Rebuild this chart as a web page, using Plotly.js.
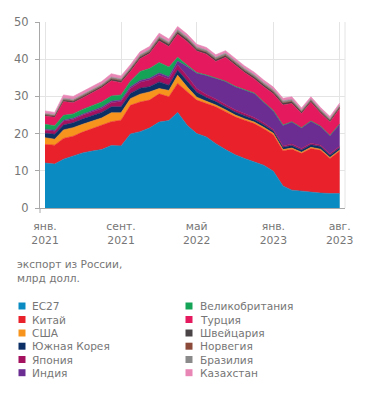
<!DOCTYPE html>
<html>
<head>
<meta charset="utf-8">
<script src="https://cdn.plot.ly/plotly-3.0.1.min.js"></script>
<style>
html,body{margin:0;padding:0;background:#fff;}
#chart{width:371px;height:395px;}
</style>
</head>
<body>
<div id="chart"></div>
<script>
// Months Jan 2021 .. Aug 2023
const months = ["2021-01-01","2021-02-01","2021-03-01","2021-04-01","2021-05-01","2021-06-01","2021-07-01","2021-08-01","2021-09-01","2021-10-01","2021-11-01","2021-12-01",
"2022-01-01","2022-02-01","2022-03-01","2022-04-01","2022-05-01","2022-06-01","2022-07-01","2022-08-01","2022-09-01","2022-10-01","2022-11-01","2022-12-01",
"2023-01-01","2023-02-01","2023-03-01","2023-04-01","2023-05-01","2023-06-01","2023-07-01","2023-08-01"];

// Exports from Russia, bn USD
const eu27      = [12.1,11.8,13.1,13.9,14.8,15.3,15.7,16.8,16.7,19.9,20.5,21.5,23.1,23.5,25.7,22.2,20.0,19.1,17.3,15.7,14.3,13.3,12.4,11.5,9.9,5.9,4.8,4.5,4.3,4.0,3.9,3.9];
const china     = [5.0,5.1,5.6,5.4,5.6,6.0,6.5,6.4,6.9,7.7,8.0,7.5,7.6,6.4,7.8,9.0,9.0,9.0,9.9,10.2,10.2,10.3,10.3,9.8,9.8,9.5,11.0,10.2,11.7,11.5,9.4,11.4];
const usa       = [1.8,1.6,2.3,2.3,2.1,2.0,2.0,2.4,2.0,1.8,2.1,2.2,1.4,1.7,2.2,1.3,0.8,0.6,0.5,0.5,0.5,0.4,0.4,0.4,0.4,0.3,0.3,0.3,0.3,0.3,0.3,0.3];
const korea     = [1.2,1.3,1.3,1.3,1.4,1.5,1.5,1.6,1.6,1.4,1.6,1.4,1.8,1.4,1.4,1.6,1.3,1.0,0.9,0.8,0.8,0.8,0.7,0.7,0.6,0.6,0.7,0.6,0.7,0.7,0.6,0.6];
const japan     = [0.8,0.8,1.0,0.9,1.0,1.0,1.0,1.1,1.4,1.3,1.6,1.8,1.8,1.7,1.4,1.3,1.0,0.8,0.7,0.6,0.6,0.6,0.5,0.5,0.4,0.4,0.4,0.4,0.4,0.4,0.4,0.4];
const india     = [0.3,0.3,0.3,0.3,0.3,0.4,0.4,0.4,0.4,0.5,0.5,0.5,0.6,0.6,1.0,2.6,4.1,5.1,5.6,6.2,6.2,6.3,6.5,5.5,5.0,5.5,5.9,5.5,5.9,5.0,4.8,5.9];
const uk        = [1.3,1.2,1.3,1.2,1.3,1.3,1.4,1.4,1.4,1.5,2.4,2.6,2.8,2.6,1.0,0.4,0.2,0.15,0.1,0.1,0.1,0.1,0.1,0.1,0.1,0.1,0.1,0.1,0.1,0.1,0.1,0.1];
const turkey    = [2.2,2.3,3.7,3.0,3.1,3.5,3.8,4.1,3.3,2.6,3.4,4.0,5.8,5.5,6.2,6.3,5.8,5.6,4.4,6.4,5.8,4.6,3.8,4.1,4.5,5.4,4.9,3.8,5.0,3.5,3.6,4.1];
const swiss     = [0.3,0.3,0.4,0.4,0.4,0.4,0.4,0.5,0.5,0.5,0.5,0.5,0.6,0.6,0.6,0.6,0.5,0.5,0.5,0.5,0.5,0.5,0.5,0.5,0.5,0.5,0.5,0.4,0.4,0.4,0.4,0.4];
const norway    = [0.1,0.1,0.1,0.1,0.1,0.1,0.1,0.1,0.1,0.1,0.1,0.1,0.1,0.1,0.1,0.1,0.1,0.1,0.1,0.1,0.1,0.1,0.1,0.1,0.1,0.1,0.1,0.1,0.1,0.1,0.1,0.1];
const brazil    = [0.3,0.3,0.4,0.4,0.4,0.4,0.4,0.4,0.4,0.4,0.5,0.5,0.5,0.5,0.6,0.5,0.5,0.5,0.5,0.5,0.5,0.5,0.5,0.5,0.5,0.5,0.5,0.4,0.4,0.4,0.4,0.4];
const kazakhstan= [0.7,0.6,0.9,0.8,0.8,0.8,0.8,0.9,0.8,0.8,0.8,0.8,0.9,0.8,0.8,0.8,0.7,0.7,0.7,0.7,0.7,0.7,0.7,0.7,0.7,0.7,0.7,0.6,0.6,0.6,0.6,0.6];

const seriesNames  = ["ЕС27","Китай","США","Южная Корея","Япония","Индия","Великобритания","Турция","Швейцария","Норвегия","Бразилия","Казахстан"];
const seriesValues = [eu27,china,usa,korea,japan,india,uk,turkey,swiss,norway,brazil,kazakhstan];
const seriesColors = ["#0a8cc2","#e8212b","#f7941e","#0c2f66","#a3115f","#6b2d92","#15a457","#e5195e","#4b4446","#8c4a3b","#8a8a8a","#e886b6"];

const tickVals  = ["2021-01-01","2021-09-01","2022-05-01","2023-01-01","2023-08-01"];
const tickTexts = ["янв.<br>2021","сент.<br>2021","май<br>2022","янв.<br>2023","авг.<br>2023"];
const yTicks    = [0,10,20,30,40,50];
const unitLabel = "экспорт из России,<br>млрд долл.";

const FONT = "'DejaVu Sans', sans-serif";
const TXT = "#767676";

const traces = seriesNames.map((n,i)=>({
  type:"scatter", mode:"lines", x:months, y:seriesValues[i], name:n,
  stackgroup:"one", fillcolor:seriesColors[i],
  line:{width:0.6,color:seriesColors[i],shape:"linear"},
  showlegend:false, hoverinfo:"skip"
}));

// plot-area geometry in pixels (for the manual legend placement)
const W=371,H=395,L=40,R=26,T=22,B=187;
const pw=W-L-R, ph=H-T-B;
const px=x=>(x-L)/pw, py=y=>(H-B-y)/ph;

const shapes=[], annotations=[];
// legend: two columns of six rows
const rowsY=[306,319.5,333,346.2,359.5,372.7];
seriesNames.forEach((n,i)=>{
  const col = i<6?0:1, row=i%6;
  const sx = col===0?18.5:185.5;
  const tx = col===0?31:199;
  const cy = rowsY[row];
  shapes.push({type:"rect",xref:"paper",yref:"paper",x0:px(sx),x1:px(sx+7),y0:py(cy+3.5),y1:py(cy-3.5),
    fillcolor:seriesColors[i],line:{width:0}});
  annotations.push({xref:"paper",yref:"paper",x:px(tx),y:py(cy),xanchor:"left",yanchor:"middle",borderpad:0,
    text:n,showarrow:false,font:{family:FONT,size:10.6,color:TXT}});
});
annotations.push({xref:"paper",yref:"paper",x:px(16),y:py(257),xanchor:"left",yanchor:"top",align:"left",borderpad:0,
  text:unitLabel,showarrow:false,font:{family:FONT,size:10.6,color:TXT}});
// right border gridline and small extension of the y axis below zero
shapes.push({type:"line",xref:"paper",yref:"paper",x0:1,x1:1,y0:0,y1:1,line:{color:"#e4e4e4",width:1}});
shapes.push({type:"line",xref:"paper",yref:"paper",x0:0,x1:0,y0:py(208),y1:py(213),line:{color:"#a8a8a8",width:1}});

const layout={
  width:W,height:H,margin:{l:L,r:R,t:T,b:B,pad:0},
  paper_bgcolor:"#fff",plot_bgcolor:"#fff",
  font:{family:FONT,color:TXT,size:11},
  showlegend:false,
  xaxis:{type:"date",range:["2020-12-16","2023-08-18"],tickvals:tickVals,ticktext:tickTexts,
    showgrid:true,gridcolor:"#e4e4e4",gridwidth:1,zeroline:false,showline:true,linecolor:"#a8a8a8",linewidth:1,
    ticks:"",tickfont:{family:FONT,size:10.8,color:TXT},ticklabelstandoff:8},
  yaxis:{range:[0,50],tickvals:yTicks,showgrid:true,gridcolor:"#e4e4e4",gridwidth:1,zeroline:false,
    showline:true,linecolor:"#a8a8a8",linewidth:1,ticks:"outside",ticklen:4,tickcolor:"#a8a8a8",
    tickfont:{family:FONT,size:11.5,color:TXT},ticklabelstandoff:4},
  shapes:shapes,annotations:annotations
};
Plotly.newPlot("chart",traces,layout,{displayModeBar:false,staticPlot:true});
</script>
</body>
</html>
